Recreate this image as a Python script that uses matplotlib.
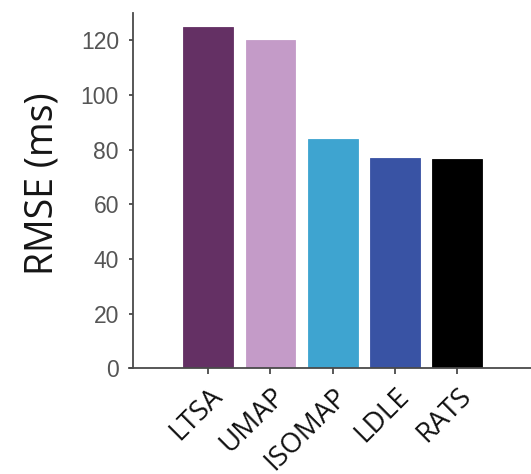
import matplotlib
matplotlib.use("Agg")
import matplotlib.pyplot as plt

methods = ["LTSA", "UMAP", "ISOMAP", "LDLE", "RATS"]
rmse = [125.0, 120.0, 83.8, 77.1, 76.6]
colors = ["#643064", "#c49bc8", "#3ea4d0", "#3953a4", "#000000"]
yticks = [0, 20, 40, 60, 80, 100, 120]

fig = plt.figure(figsize=(5.31, 4.74), dpi=100)
ax = fig.add_axes([0.2424, 0.2228, 0.7576, 0.75])

x = list(range(len(methods)))
ax.bar(x, rmse, width=0.8, color=colors, edgecolor=colors, linewidth=0.6, zorder=2)

ax.set_xlim(-1.28, 5.19)
ax.set_ylim(0, 130)

axis_col = "#4a4a4a"
for side in ("top", "right"):
    ax.spines[side].set_visible(False)
ax.spines["left"].set_position(("data", -1.21))
for side in ("left", "bottom"):
    ax.spines[side].set_color(axis_col)
    ax.spines[side].set_linewidth(1.3)

ax.set_yticks(yticks)
ax.set_yticklabels([str(v) for v in yticks], family="Liberation Sans", fontsize=16.5, color="#555555")
ax.tick_params(axis="y", length=3.2, width=1.3, color=axis_col, pad=7)

ax.set_xticks(x)
ax.set_xticklabels(methods, rotation=45, ha="right", rotation_mode="anchor",
                   family="Open Sans", fontsize=20, color="#111111")
ax.tick_params(axis="x", length=4, width=1.3, color=axis_col, pad=6)

ax.set_ylabel("RMSE (ms)", family="Open Sans", fontsize=27, color="#151515")
ax.yaxis.set_label_coords(-0.168, 0.52)

fig.savefig("out.png", dpi=100)
